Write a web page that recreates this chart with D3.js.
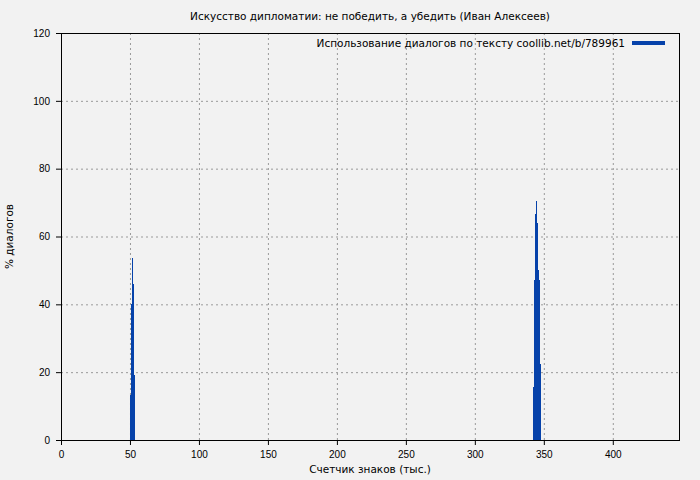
<!DOCTYPE html>
<html>
<head>
<meta charset="utf-8">
<script src="https://cdn.jsdelivr.net/npm/d3@7"></script>
<style>
  body { margin: 0; background: #f2f2f2; }
  svg { display: block; font-family: "DejaVu Sans", Verdana, sans-serif; }
  .axis text { font-size: 10px; fill: #000; }
  .grid line { stroke: #9a9a9a; stroke-dasharray: 2,3; }
</style>
</head>
<body>
<div id="chart"></div>
<script>
// данные: позиция (тыс. знаков) и % диалогов
var xValues = [50.4, 51.1, 51.8, 52.5, 53.2,
               342.4, 343.1, 343.8, 344.5, 345.2, 345.9, 346.6, 347.3];
var yValues = [13.3, 40.2, 53.8, 46.1, 19.3,
               15.5, 47.3, 66.7, 70.4, 64.0, 50.0, 47.3, 22.5];
var xTicks = [0, 50, 100, 150, 200, 250, 300, 350, 400];
var yTicks = [0, 20, 40, 60, 80, 100, 120];
var xMax = 448;
var boxWidth = 0.72;

var titleText = "Искусство дипломатии: не победить, а убедить (Иван Алексеев)";
var legendText = "Использование диалогов по тексту coollib.net/b/789961";
var xLabel = "Счетчик знаков (тыс.)";
var yLabel = "% диалогов";

var W = 700, H = 480;
var margin = { top: 33, right: 21, bottom: 40, left: 61 },
    width = W - margin.left - margin.right,
    height = H - margin.top - margin.bottom;

var data = xValues.map(function (d, i) { return { x: d, y: yValues[i] }; });

var x = d3.scaleLinear().domain([0, xMax]).range([0, width]);
var y = d3.scaleLinear().domain([0, 120]).range([height, 0]);

var svg = d3.select("#chart").append("svg")
    .attr("width", W).attr("height", H);
svg.append("rect").attr("width", W).attr("height", H).attr("fill", "#f2f2f2");

var g = svg.append("g")
    .attr("transform", "translate(" + margin.left + "," + margin.top + ")");

//----------сетка----------
g.append("g").attr("class", "grid")
    .selectAll("line").data(xTicks.slice(1)).enter().append("line")
    .attr("x1", function (d) { return x(d) + 0.5; })
    .attr("x2", function (d) { return x(d) + 0.5; })
    .attr("y1", 0).attr("y2", height);
g.append("g").attr("class", "grid")
    .selectAll("line").data(yTicks.slice(1, -1)).enter().append("line")
    .attr("y1", function (d) { return y(d) + 0.5; })
    .attr("y2", function (d) { return y(d) + 0.5; })
    .attr("x1", 0).attr("x2", width);

//----------столбцы----------
g.append("g").selectAll("rect").data(data).enter().append("rect")
    .attr("x", function (d) { return x(d.x - boxWidth / 2); })
    .attr("width", function (d) { return x(d.x + boxWidth / 2) - x(d.x - boxWidth / 2); })
    .attr("y", function (d) { return y(d.y); })
    .attr("height", function (d) { return height - y(d.y); })
    .attr("fill", "#0642aa")
    .attr("shape-rendering", "crispEdges");

//----------оси----------
var xAxis = d3.axisBottom(x).tickValues(xTicks).tickSize(5).tickSizeOuter(0);
var yAxis = d3.axisLeft(y).tickValues(yTicks).tickSize(5).tickSizeOuter(0);

g.append("g").attr("class", "x axis")
    .attr("transform", "translate(0," + height + ")")
    .call(xAxis)
    .call(function (s) { s.select(".domain").remove(); s.selectAll("text").attr("dy", "0.95em"); });
g.append("g").attr("class", "y axis")
    .call(yAxis)
    .call(function (s) { s.select(".domain").remove(); s.selectAll("text").attr("dx", "-0.3em"); });

g.append("rect")
    .attr("x", 0.5).attr("y", 0.5)
    .attr("width", width).attr("height", height)
    .attr("fill", "none").attr("stroke", "#000");

//----------легенда----------
g.append("text")
    .attr("x", 564).attr("y", 14)
    .attr("text-anchor", "end")
    .attr("font-size", 10.5)
    .text(legendText);
g.append("rect")
    .attr("x", 571).attr("y", 8)
    .attr("width", 33).attr("height", 4)
    .attr("fill", "#0642aa");

//----------подписи----------
svg.append("text")
    .attr("x", margin.left + width / 2).attr("y", 20)
    .attr("text-anchor", "middle").attr("font-size", 10.5)
    .text(titleText);
svg.append("text")
    .attr("x", margin.left + width / 2).attr("y", 473)
    .attr("text-anchor", "middle").attr("font-size", 10.5)
    .text(xLabel);
svg.append("text")
    .attr("transform", "translate(13," + (margin.top + height / 2) + ") rotate(-90)")
    .attr("text-anchor", "middle").attr("font-size", 10.5)
    .text(yLabel);
</script>
</body>
</html>
